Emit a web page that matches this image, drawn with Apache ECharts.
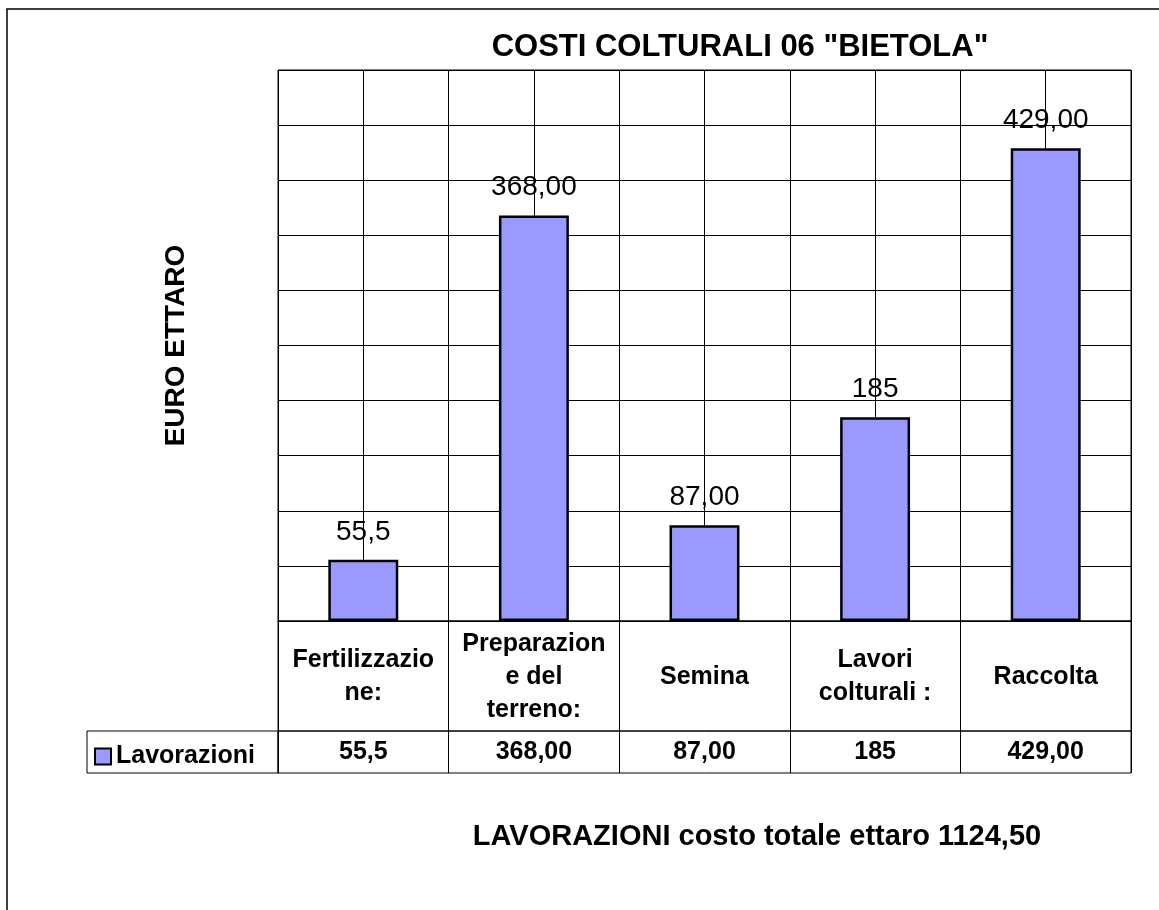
<!DOCTYPE html>
<html>
<head>
<meta charset="utf-8">
<script src="https://cdn.jsdelivr.net/npm/echarts@6/dist/echarts.min.js"></script>
<style>
html, body { margin: 0; padding: 0; background: #fff; }
#chart { width: 1159px; height: 910px; }
</style>
</head>
<body>
<div id="chart"></div>
<script>
// dati del grafico
var categories = ["Fertilizzazio\nne:", "Preparazion\ne del\nterreno:", "Semina", "Lavori\ncolturali :", "Raccolta"];
var values = [55.5, 368, 87, 185, 429];
var valueLabels = ["55,5", "368,00", "87,00", "185", "429,00"];
var seriesName = "Lavorazioni";
var yMin = 0, yMax = 500, yStep = 50;

var font = "'Liberation Sans', Arial, sans-serif";
var black = "#000";

// linee verticali a metà categoria (griglia tipo Excel)
var halfBands = [];
categories.forEach(function (c, i) {
   halfBands.push(i + "a");
   halfBands.push(i + "b");
});

var hidden = { show: false };

var option = {
   animation: false,
   backgroundColor: "#fff",
   textStyle: { fontFamily: font, color: black },
   title: [
      {
         text: 'COSTI COLTURALI 06 "BIETOLA"',
         left: 740, top: 32, textAlign: "center", padding: 0,
         textStyle: { fontSize: 31, fontWeight: "bold", color: black, fontFamily: font }
      },
      {
         text: "LAVORAZIONI costo totale ettaro 1124,50",
         left: 757, top: 822, textAlign: "center", padding: 0,
         textStyle: { fontSize: 29, fontWeight: "bold", color: black, fontFamily: font }
      }
   ],
   legend: {
      data: [seriesName],
      left: 94, top: 744, padding: 0,
      icon: "rect", itemWidth: 16, itemHeight: 16,
      itemStyle: { borderColor: black, borderWidth: 2 },
      textStyle: { fontSize: 25, fontWeight: "bold", color: black, fontFamily: font }
   },
   grid: [
      // area del grafico
      { left: 278, top: 70, width: 853, height: 551, show: true, borderColor: black, borderWidth: 1, outerBoundsMode: "none", containLabel: false },
      // riga etichette categorie
      { left: 278, top: 621, width: 853, height: 110, show: true, borderColor: black, borderWidth: 1, outerBoundsMode: "none", containLabel: false },
      // riga valori
      { left: 278, top: 731, width: 853, height: 42, show: true, borderColor: black, borderWidth: 1, outerBoundsMode: "none", containLabel: false },
      // cella legenda
      { left: 87, top: 731, width: 191, height: 42, show: true, borderColor: black, borderWidth: 1, outerBoundsMode: "none", containLabel: false }
   ],
   xAxis: [
      {
         type: "category", gridIndex: 0, data: categories, position: "bottom",
         axisLine: { show: true, lineStyle: { color: black, width: 1 } },
         axisTick: hidden,
         splitLine: { show: true, interval: 0, lineStyle: { color: black, width: 1 } },
         axisLabel: {
            interval: 0, margin: 56, verticalAlign: "middle", align: "center",
            fontSize: 25, fontWeight: "bold", lineHeight: 33, color: black, fontFamily: font
         }
      },
      {
         type: "category", gridIndex: 0, data: halfBands, position: "top",
         axisLine: hidden, axisTick: hidden, axisLabel: hidden,
         splitLine: { show: true, interval: 0, lineStyle: { color: black, width: 1 } }
      },
      {
         type: "category", gridIndex: 1, data: categories,
         axisLine: hidden, axisTick: hidden, axisLabel: hidden,
         splitLine: { show: true, interval: 0, lineStyle: { color: black, width: 1 } }
      },
      {
         type: "category", gridIndex: 2, data: categories, position: "top",
         axisLine: hidden, axisTick: hidden,
         splitLine: { show: true, interval: 0, lineStyle: { color: black, width: 1 } },
         axisLabel: {
            inside: true, interval: 0, margin: 21, verticalAlign: "middle", align: "center",
            fontSize: 25, fontWeight: "bold", color: black, fontFamily: font,
            formatter: function (v, i) { return valueLabels[i]; }
         }
      },
      { type: "category", gridIndex: 3, data: [seriesName], show: false }
   ],
   yAxis: [
      {
         type: "value", gridIndex: 0, min: yMin, max: yMax, interval: yStep,
         axisLine: hidden, axisTick: hidden, axisLabel: hidden,
         splitLine: { show: true, lineStyle: { color: black, width: 1 } },
         name: "EURO ETTARO", nameLocation: "middle", nameRotate: 90, nameGap: 88,
         nameTextStyle: { fontSize: 28, fontWeight: "bold", color: black, fontFamily: font }
      },
      { type: "value", gridIndex: 1, show: false, splitLine: hidden },
      { type: "value", gridIndex: 2, show: false, splitLine: hidden },
      { type: "value", gridIndex: 3, show: false, splitLine: hidden }
   ],
   series: [
      {
         name: seriesName, type: "bar", xAxisIndex: 0, yAxisIndex: 0,
         data: values, barWidth: "41%",
         itemStyle: { color: "#9999FF", borderColor: black, borderWidth: 2.5 },
         label: {
            show: true, position: "top", distance: 14,
            fontSize: 28, color: black, fontFamily: font,
            formatter: function (p) { return valueLabels[p.dataIndex]; }
         }
      }
   ],
   graphic: [
      {
         type: "rect", silent: true, z: -1,
         shape: { x: 7, y: 9, width: 1300, height: 1100 },
         style: { fill: null, stroke: black, lineWidth: 1.5 }
      }
   ]
};

var chart = echarts.init(document.getElementById("chart"));
chart.setOption(option);
</script>
</body>
</html>
